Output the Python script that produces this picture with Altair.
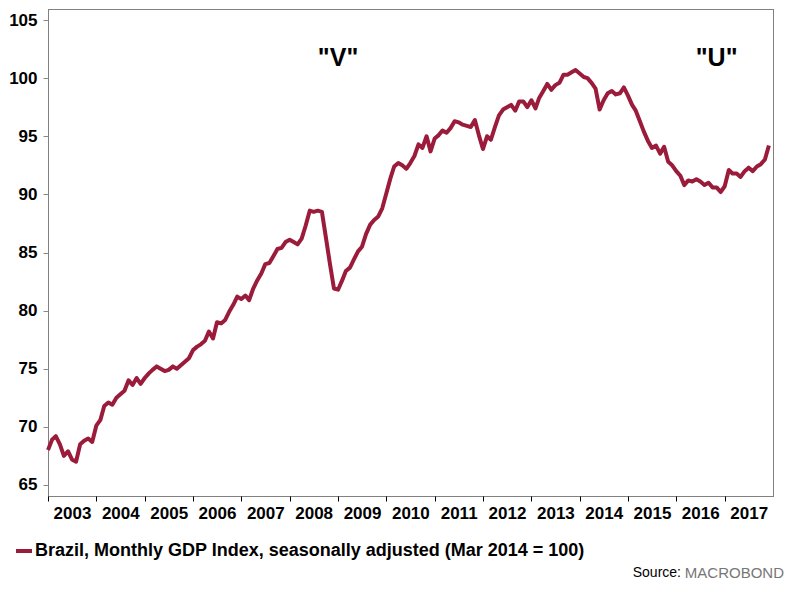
import altair as alt
import pandas as pd

series_name = "Brazil, Monthly GDP Index, seasonally adjusted (Mar 2014 = 100)"

v2003 = [68.0, 68.9, 69.2, 68.5, 67.5, 67.9, 67.2, 67.0, 68.5, 68.8, 69.0, 68.7]
v2004 = [70.1, 70.6, 71.8, 72.1, 71.9, 72.5, 72.8, 73.1, 74.0, 73.6, 74.2, 73.7]
v2005 = [74.2, 74.6, 74.9, 75.2, 75.0, 74.8, 74.9, 75.2, 75.0, 75.3, 75.6, 75.9]
v2006 = [76.6, 76.9, 77.1, 77.4, 78.2, 77.6, 79.0, 78.9, 79.2, 79.9, 80.5, 81.2]
v2007 = [81.0, 81.3, 80.9, 81.9, 82.6, 83.2, 84.0, 84.1, 84.7, 85.3, 85.4, 85.9]
v2008 = [86.1, 85.9, 85.7, 86.2, 87.3, 88.6, 88.5, 88.6, 88.5, 86.3, 84.0, 81.9]
v2009 = [81.8, 82.6, 83.4, 83.7, 84.4, 85.1, 85.5, 86.6, 87.4, 87.8, 88.1, 88.8]
v2010 = [90.1, 91.4, 92.4, 92.7, 92.5, 92.2, 92.7, 93.3, 94.3, 94.0, 95.0, 93.7]
v2011 = [94.8, 95.1, 95.5, 95.3, 95.7, 96.3, 96.2, 96.0, 95.9, 95.8, 96.4, 95.1]
v2012 = [93.9, 95.0, 94.7, 95.8, 96.8, 97.3, 97.5, 97.7, 97.2, 98.0, 98.0, 97.5]
v2013 = [98.1, 97.4, 98.3, 98.9, 99.5, 99.0, 99.4, 99.6, 100.3, 100.3, 100.5, 100.7]
v2014 = [100.4, 100.1, 100.0, 99.6, 99.1, 97.3, 98.1, 98.7, 98.9, 98.6, 98.7, 99.2]
v2015 = [98.5, 97.7, 97.2, 96.3, 95.4, 94.6, 94.0, 94.2, 93.5, 94.1, 92.8, 92.5]
v2016 = [92.0, 91.6, 90.8, 91.2, 91.1, 91.3, 91.1, 90.8, 91.0, 90.6, 90.6, 90.2]
v2017 = [90.7, 92.1, 91.8, 91.8, 91.5, 92.0, 92.3, 92.0, 92.4, 92.6, 93.0, 94.2]

values = (v2003 + v2004 + v2005 + v2006 + v2007 + v2008 + v2009 + v2010 +
          v2011 + v2012 + v2013 + v2014 + v2015 + v2016 + v2017)
dates = pd.date_range("2003-01-01", periods=len(values), freq="MS").strftime("%Y-%m-%dT00:00:00")

year_ticks = list(range(2003, 2018))
y_ticks = [65, 70, 75, 80, 85, 90, 95, 100, 105]

ann_text = ['"V"', '"U"']
ann_date = ["2009-01-01T00:00:00", "2016-11-01T00:00:00"]
ann_value = [101.7, 101.7]

df = pd.DataFrame({"date": list(dates), "value": values, "series": series_name})
df_ann = pd.DataFrame({"date": ann_date, "value": ann_value, "text": ann_text})
df_src = pd.DataFrame({"a": [0]})

FONT = "Liberation Sans"
RED = "#9B1B3B"

x_enc = alt.X(
    "date:T",
    scale=alt.Scale(domain=[alt.DateTime(year=2003, month=1, date=1),
                            alt.DateTime(year=2018, month=1, date=1)]),
    axis=alt.Axis(
        values=[alt.DateTime(year=y, month=1, date=1) for y in year_ticks],
        format="%Y", title=None, grid=False, domain=False,
        ticks=True, tickSize=5, tickColor="black", tickWidth=1,
        labelOffset=24, labelAlign="center", labelPadding=4,
        labelFont=FONT, labelFontSize=17, labelFontWeight="bold", labelColor="black",
        labelOverlap=False,
    ),
)
y_enc = alt.Y(
    "value:Q",
    scale=alt.Scale(domain=[64.05, 105.95], nice=False, zero=False),
    axis=alt.Axis(
        values=y_ticks, title=None, grid=False, domain=False,
        tickSize=5, tickColor="#888888", tickWidth=1, labelPadding=6,
        labelFont=FONT, labelFontSize=17, labelFontWeight="bold", labelColor="black",
    ),
)

line = alt.Chart(df).mark_line(strokeWidth=4, strokeJoin="round").encode(
    x=x_enc,
    y=y_enc,
    color=alt.Color(
        "series:N",
        scale=alt.Scale(domain=[series_name], range=[RED]),
        legend=alt.Legend(
            title=None, orient="none", legendX=-34, legendY=532,
            symbolType="stroke", symbolStrokeWidth=4, symbolSize=256,
            labelFont=FONT, labelFontSize=18, labelFontWeight="bold",
            labelColor="black", labelLimit=800, labelOffset=1, padding=0,
        ),
    ),
)

ann = alt.Chart(df_ann).mark_text(
    font=FONT, fontSize=25, fontWeight="bold", color="black", baseline="middle", align="center"
).encode(x="date:T", y="value:Q", text="text:N")

src1 = alt.Chart(df_src).mark_text(
    font=FONT, fontSize=14, color="black", align="right", baseline="middle", text="Source:"
).encode(x=alt.value(633), y=alt.value(564))

src2 = alt.Chart(df_src).mark_text(
    font=FONT, fontSize=15, color="#777777", align="right", baseline="middle", text="MACROBOND"
).encode(x=alt.value(736), y=alt.value(564))

chart = alt.layer(line, ann, src1, src2).properties(
    width=725, height=487,
    padding={"left": 40, "top": 1, "right": 17, "bottom": 87},
    autosize=alt.AutoSizeParams(type="none"),
    background="white",
).configure_view(
    stroke="black", strokeDash=[1, 1], strokeWidth=1
)

chart.save("out.html", embed_options={"renderer": "svg", "actions": False})
